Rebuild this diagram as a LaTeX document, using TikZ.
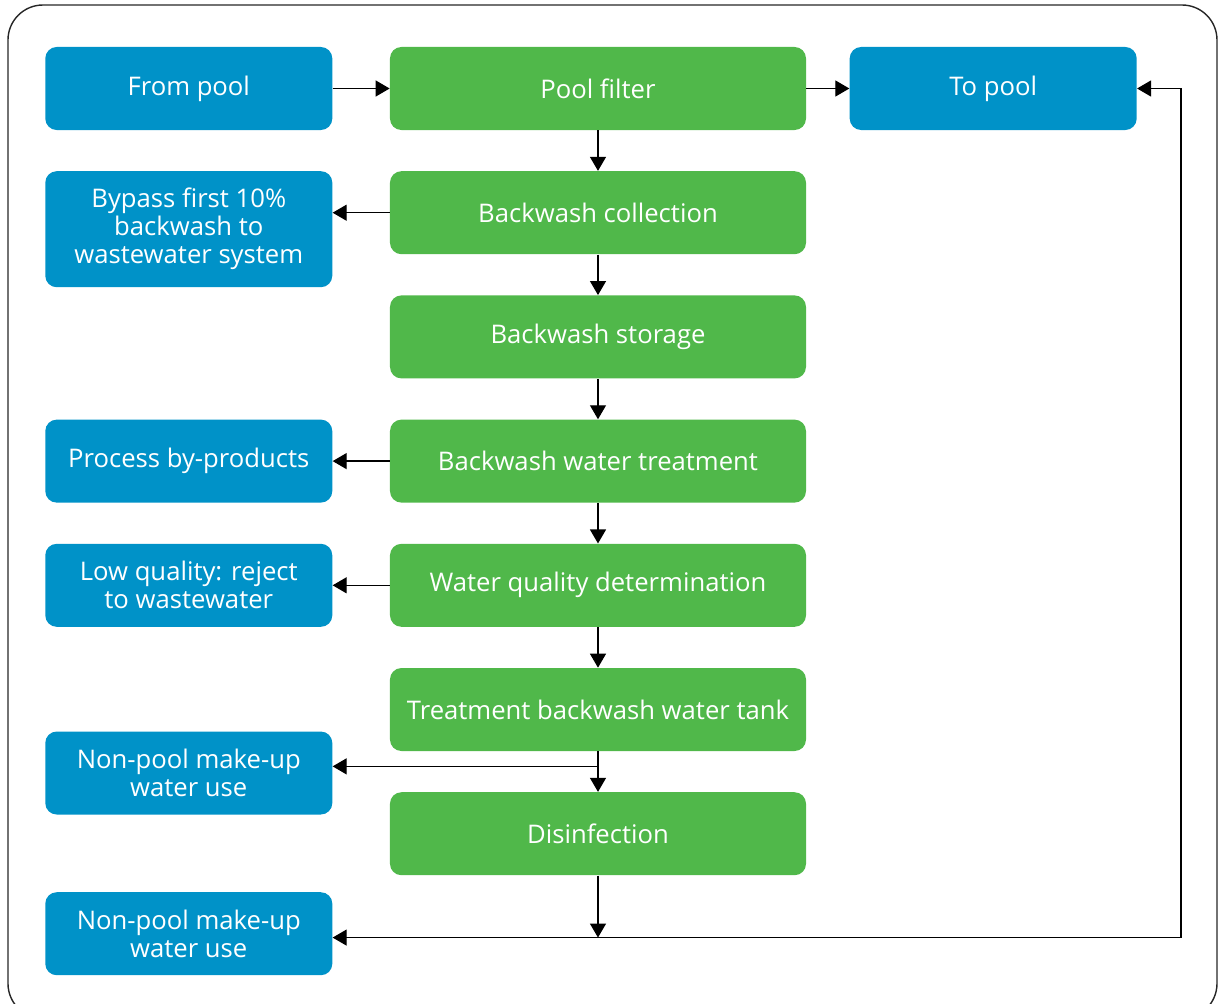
\documentclass[tikz,border=0pt]{standalone}
\usepackage{fontspec}
\setmainfont{Open Sans}
\usepackage{tikz}
\usetikzlibrary{arrows.meta,positioning,calc}
\definecolor{poolgreen}{RGB}{80,184,74}
\definecolor{poolblue}{RGB}{0,146,200}
\tikzset{
  box/.style   = {rectangle, rounded corners=6.5pt, text=white, align=center,
                  minimum height=1.66cm, inner sep=2pt,
                  font=\fontsize{14.6}{15.9}\selectfont},
  proc/.style  = {box, fill=poolgreen, minimum width=8.32cm},
  side/.style  = {box, fill=poolblue, minimum width=5.74cm},
  fl/.style    = {-{Triangle[length=2.8mm,width=3.2mm]}, line width=0.7pt},
  flb/.style   = {{Triangle[length=2.8mm,width=3.2mm]}-{Triangle[length=2.8mm,width=3.2mm]},
                  line width=0.7pt},
}

\begin{document}
\begin{tikzpicture}[node distance=0.81cm and 1.14cm]
    \useasboundingbox (-11.96,1.77) rectangle (12.46,-18.29);
    \begin{scope}
      \clip (-11.96,1.77) rectangle (12.46,-18.29);
      \draw[black!85, line width=0.8pt, rounded corners=0.7cm] (-11.8,1.67) rectangle (12.38,-18.6);
    \end{scope}

    \node[proc] (filter) at (0,0) {Pool filter};
    \node[proc, below=of filter] (coll)   {Backwash collection};
    \node[proc, below=of coll]   (stor)   {Backwash storage};
    \node[proc, below=of stor]   (treat)  {Backwash water treatment};
    \node[proc, below=of treat]  (qual)   {Water quality determination};
    \node[proc, below=of qual]   (tank)   {Treatment backwash water tank};
    \node[proc, below=of tank]   (disinf) {Disinfection};

    \node[side, left=of filter]  (from)   {From pool};
    \node[side, right=0.86cm of filter] (topool) {To pool};
    \node[side, minimum height=2.32cm, anchor=north] (bypass) at (coll.north -| from)
         {Bypass first 10\%\\backwash to\\wastewater system};
    \node[side, left=of treat]   (byprod) {Process by-products};
    \node[side, left=of qual]    (lowq)   {Low quality: reject\\to wastewater};
    \node[side, below=2.08cm of lowq]   (reuse1) {Non-pool make-up\\water use};
    \node[side, below=1.54cm of reuse1] (reuse2) {Non-pool make-up\\water use};

    \draw[fl] (from) -- (filter);
    \draw[fl] (filter) -- (topool);
    \foreach \a/\b in {filter/coll, coll/stor, stor/treat, treat/qual, qual/tank, tank/disinf}
      \draw[fl] (\a) -- (\b);
    \draw[fl] (coll.west) -- (coll.west -| bypass.east);
    \foreach \a/\b in {treat/byprod, qual/lowq}
      \draw[fl] (\a) -- (\b);

    \coordinate (split) at ([yshift=-0.3cm]tank.south);
    \draw[fl] (split) -- (split -| reuse1.east);
    \coordinate (merge) at ([yshift=-1.24cm]disinf.south);
    \coordinate (loop)  at ([xshift=0.88cm]topool.east);
    \draw[fl] (disinf) -- (merge);
    \draw[flb] (merge -| reuse2.east) -- (merge -| loop) -- (loop) -- (topool.east);
\end{tikzpicture}
\end{document}
